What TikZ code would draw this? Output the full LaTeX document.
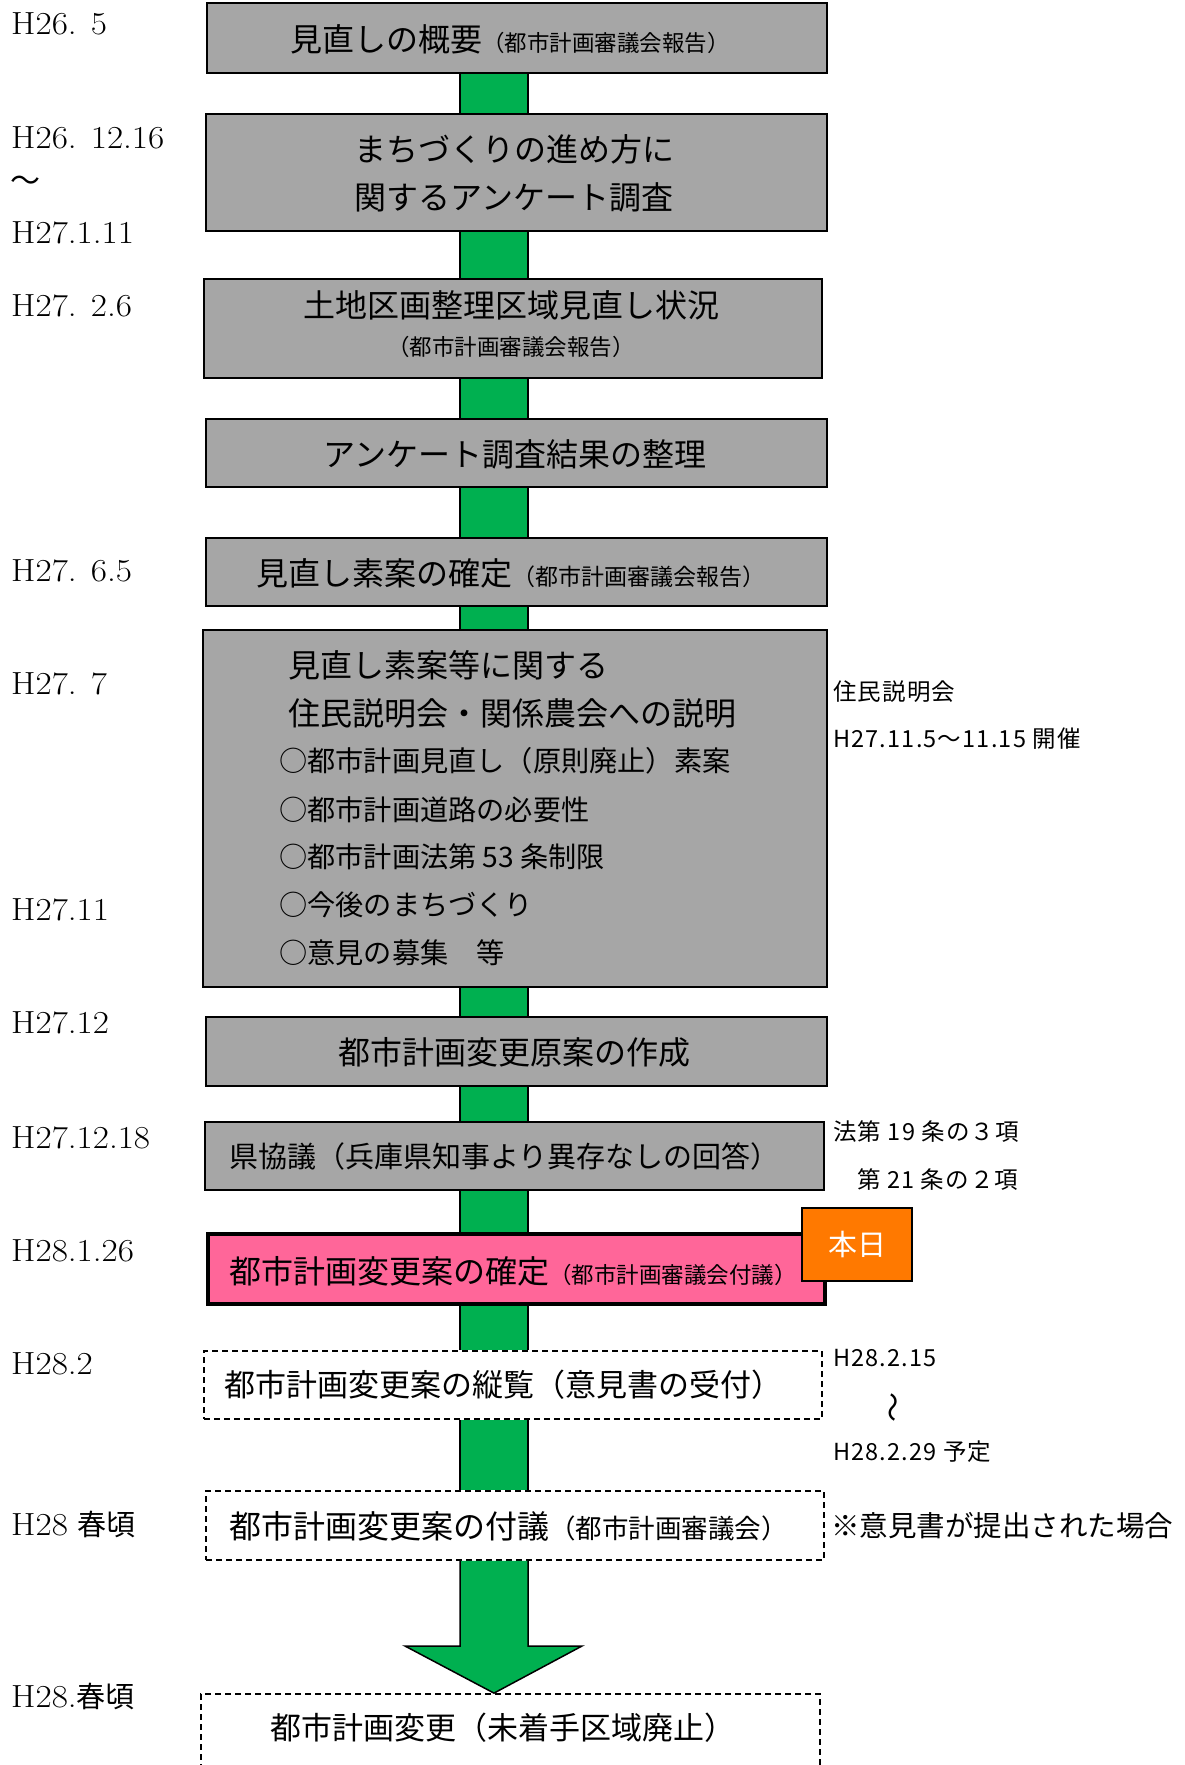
\documentclass[tikz,border=0pt]{standalone}
\usepackage{fontspec}
\newfontfamily\jp{Noto Sans CJK JP}
\newfontfamily\jpnote{Noto Sans CJK JP}[LetterSpace=5]
\usetikzlibrary{backgrounds}
\definecolor{boxgray}{RGB}{166,166,166}
\definecolor{flowgreen}{RGB}{0,176,80}
\definecolor{todaypink}{RGB}{255,102,153}
\definecolor{todayorange}{RGB}{255,121,0}
\newcommand\fs[1]{\fontsize{#1}{#1}\selectfont}
\newcommand\flowlink[2]{%
  \fill[flowgreen] (cl |- #1.south) rectangle (cr |- #2.north);
  \draw[line width=1.5pt] (cl |- #1.south) -- (cl |- #2.north) (cr |- #1.south) -- (cr |- #2.north);}
\begin{document}
\begin{tikzpicture}[x=1pt,y=-1pt,
  solidbox/.style={draw=black,line width=2pt,fill=boxgray,inner sep=0pt},
  dashbox/.style={draw=black,line width=1.8pt,dash pattern=on 6pt off 4pt,fill=white,inner sep=0pt},
  jtext/.style={inner sep=0pt,font=\jp},
  datelabel/.style={inner sep=0pt,anchor=base west},
  note/.style={inner sep=0pt,anchor=west,font=\jpnote\fs{23.5}},
]
\useasboundingbox (0,0) rectangle (1184,1765);
\coordinate (cl) at (460,0);
\coordinate (cr) at (528,0);
\coordinate (cx) at (494,0);

% boxes
\node[solidbox,minimum width=620pt,minimum height=70pt] (b1) at (517,38) {};
\node[solidbox,minimum width=621pt,minimum height=117pt] (b2) at (516.5,172.5) {};
\node[solidbox,minimum width=618pt,minimum height=99pt] (b3) at (513,328.5) {};
\node[solidbox,minimum width=621pt,minimum height=68pt] (b4) at (516.5,453) {};
\node[solidbox,minimum width=621pt,minimum height=68pt] (b5) at (516.5,572) {};
\node[solidbox,minimum width=624pt,minimum height=357pt] (b6) at (515,808.5) {};
\node[solidbox,minimum width=621pt,minimum height=69pt] (b7) at (516.5,1051.5) {};
\node[solidbox,minimum width=619pt,minimum height=68pt] (b8) at (514.5,1156) {};
\node[draw=black,line width=4pt,fill=todaypink,inner sep=0pt,minimum width=617pt,minimum height=70pt] (b9) at (516,1269) {};
\node[dashbox,minimum width=618pt,minimum height=68pt] (b10) at (513,1385) {};
\node[dashbox,minimum width=618pt,minimum height=69pt] (b11) at (515,1525.5) {};
\node[dashbox,minimum width=619pt,minimum height=102pt] (b12) at (510.5,1745) {};

% connectors
\begin{pgfonlayer}{background}
\flowlink{b1}{b2}
\flowlink{b2}{b3}
\flowlink{b3}{b4}
\flowlink{b4}{b5}
\flowlink{b5}{b6}
\flowlink{b6}{b7}
\flowlink{b7}{b8}
\flowlink{b8}{b9}
\flowlink{b9}{b10}
\flowlink{b10}{b11}
\end{pgfonlayer}
\coordinate (ahl) at (405,1646);
\coordinate (ahr) at (582,1646);
\coordinate (tip) at (cx |- b12.north);
\fill[flowgreen] (cl |- b11.south) -- (cl |- ahl) -- (ahl) -- (tip) -- (ahr) -- (cr |- ahr) -- (cr |- b11.south) -- cycle;
\draw[line width=1.5pt,line join=miter] (cl |- b11.south) -- (cl |- ahl) -- (ahl) -- (tip) -- (ahr) -- (cr |- ahr) -- (cr |- b11.south);

% box texts
\node[jtext] (t1) at (510,39) {\fs{32}見直しの概要\fs{22.5}（都市計画審議会報告）};
\node[inner sep=0pt,align=center,font=\jp\fontsize{32}{48}\selectfont] (t2) at (514,173) {まちづくりの進め方に\\関するアンケート調査};
\node[jtext] (t3a) at (511,305) {\fs{32}土地区画整理区域見直し状況};
\node[jtext] (t3b) at (511,347) {\fs{22.5}（都市計画審議会報告）};
\node[jtext] (t4) at (515,454) {\fs{32}アンケート調査結果の整理};
\node[jtext] (t5) at (511,573) {\fs{32}見直し素案の確定\fs{23}（都市計画審議会報告）};
\node[jtext,anchor=west] (t6a) at (288,665) {\fs{32}見直し素案等に関する};
\node[jtext,anchor=west] (t6b) at (288,713) {\fs{32}住民説明会・関係農会への説明};
\node[jtext,anchor=west] (t6c) at (279,761) {\fs{28.2}○都市計画見直し（原則廃止）素案};
\node[jtext,anchor=west] (t6d) at (279,810) {\fs{28.2}○都市計画道路の必要性};
\node[jtext,anchor=west] (t6e) at (279,857) {\fs{28.2}○都市計画法第 53 条制限};
\node[jtext,anchor=west] (t6f) at (279,905) {\fs{28.2}○今後のまちづくり};
\node[jtext,anchor=west] (t6g) at (279,953) {\fs{28.2}○意見の募集　等};
\node[jtext] (t7) at (514,1052) {\fs{32}都市計画変更原案の作成};
\node[jtext,anchor=west] (t8) at (229,1156) {\fs{29}県協議（兵庫県知事より異存なしの回答）};
\node[jtext,anchor=west] (t9) at (229,1271) {\fs{32}都市計画変更案の確定\fs{22.5}（都市計画審議会付議）};
\node[draw=black,line width=2pt,fill=todayorange,inner sep=0pt,minimum width=110pt,minimum height=73pt,text=white,font=\jp\fs{29}] (hj) at (857,1244.5) {本日};
\node[jtext,anchor=west] (t10) at (224,1385) {\fs{31}都市計画変更案の縦覧（意見書の受付）};
\node[jtext,anchor=west] (t11) at (229,1526) {\fs{32}都市計画変更案の付議\fs{26.5}（都市計画審議会）};
\node[jtext] (t12) at (503,1728) {\fs{31}都市計画変更（未着手区域廃止）};

% right notes
\node[note] (n1) at (833,692) {住民説明会};
\node[note] (n2) at (833,739) {H27.11.5～11.15 開催};
\node[note] (n3) at (833,1132) {法第 19 条の３項};
\node[note] (n4) at (857,1180) {第 21 条の２項};
\node[note] (n5) at (833,1358) {H28.2.15};
\node[inner sep=0pt,font=\jp\fs{30},rotate=90] (n6) at (897,1407) {～};
\node[note] (n7) at (833,1452) {H28.2.29 予定};
\node[note,font=\jp\fs{28.5}] (n8) at (831,1526) {※意見書が提出された場合};

% date labels
\begin{scope}[every node/.style={datelabel,font=\fs{32}}]
\node (d1) at (11,34) {\scalebox{1.1}[1]{H26. 5}};
\node (d2) at (11,148) {\scalebox{1.1}[1]{H26. 12.16}};
\node (d4) at (11,243) {\scalebox{1.1}[1]{H27.1.11}};
\node (d5) at (11,316) {\scalebox{1.1}[1]{H27. 2.6}};
\node (d6) at (11,581) {\scalebox{1.1}[1]{H27. 6.5}};
\node (d7) at (11,694) {\scalebox{1.1}[1]{H27. 7}};
\node (d8) at (11,920) {\scalebox{1.1}[1]{H27.11}};
\node (d9) at (11,1033) {\scalebox{1.1}[1]{H27.12}};
\node (d10) at (11,1148) {\scalebox{1.1}[1]{H27.12.18}};
\node (d11) at (11,1261) {\scalebox{1.1}[1]{H28.1.26}};
\node (d12) at (11,1374) {\scalebox{1.1}[1]{H28.2}};
\node (d13) at (11,1535) {\scalebox{1.1}[1]{H28} {\jp\fs{29}春頃}};
\node (d14) at (11,1707) {\scalebox{1.1}[1]{H28.}{\jp\fs{29}春頃}};
\end{scope}
\node[inner sep=0pt,font=\jp\fs{30}] (d3) at (25,184) {～};
\end{tikzpicture}
\end{document}
